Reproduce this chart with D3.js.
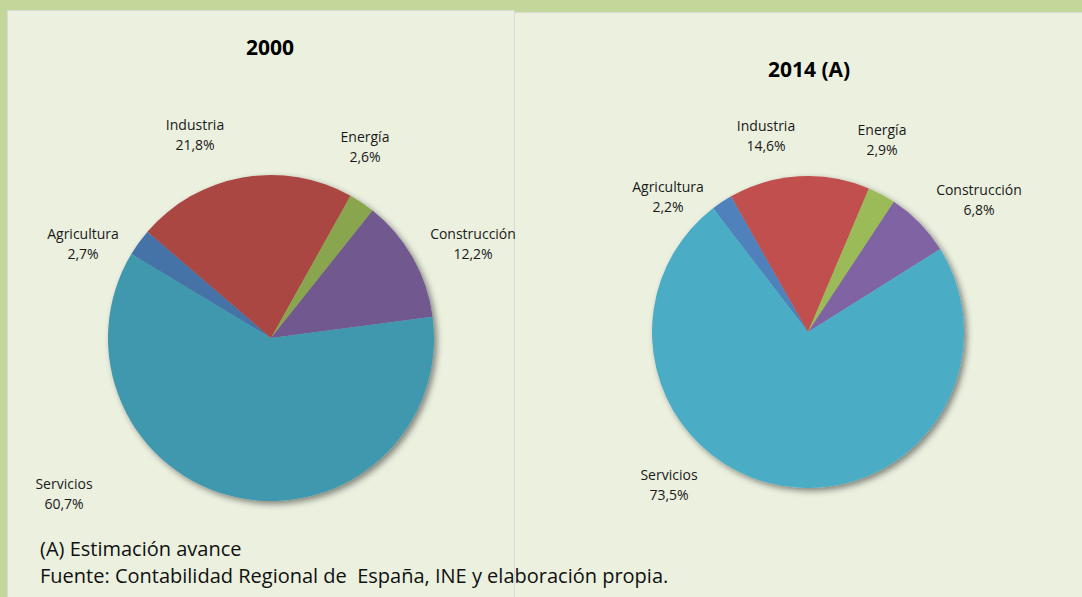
<!doctype html>
<html lang="es">
<head>
  <meta charset="utf-8">
  <title>Estructura sectorial 2000 - 2014</title>
  <style>
    body { margin: 0; background: #c4d79b; }
    svg { display: block; font-family: "Open Sans", "Noto Sans", sans-serif; }
    .lbl { font-size: 14px; fill: #1a1a1a; }
    .ttl { font-size: 21px; font-weight: bold; fill: #000; }
    .note { font-size: 20px; fill: #111; white-space: pre; }
  </style>
</head>
<body>
  <div id="chart"></div>
  <script src="https://cdn.jsdelivr.net/npm/d3@7"></script>
  <script>
(function() {

  var sectors = ['Agricultura', 'Industria', 'Energía', 'Construcción', 'Servicios'];
  var values2000 = [2.7, 21.8, 2.6, 12.2, 60.7];
  var values2014 = [2.2, 14.6, 2.9, 6.8, 73.5];
  var titles = ['2000', '2014 (A)'];
  var notes = ['(A) Estimación avance', 'Fuente: Contabilidad Regional de  España, INE y elaboración propia.'];

  var colors2000 = ['#4572a7', '#aa4643', '#89a54e', '#71588f', '#4198af'];
  var colors2014 = ['#4f81bd', '#c0504d', '#9bbb59', '#8064a2', '#4bacc6'];

  var width = 1082, height = 597;
  var fmt = function(v) { return d3.format('.1f')(v).replace('.', ',') + '%'; };

  // layout of each panel: pie centre, radius, rotation, title pos, label offsets (from centre)
  var panels = [
    { x: 7, y: 10, w: 507, values: values2000, colors: colors2000, title: titles[0],
      cx: 271, cy: 338, r: 163, start: -59, tx: 270, ty: 55,
      labels: [[-188, -99], [-76, -208], [94, -196], [202, -99], [-207, 151]] },
    { x: 514, y: 12, w: 568, values: values2014, colors: colors2014, title: titles[1],
      cx: 808, cy: 332, r: 156, start: -37.5, tx: 809, ty: 77,
      labels: [[-140, -140], [-42, -201], [74, -197], [171, -137], [-139, 148]] }
  ];

  var svg = d3.select('#chart').append('svg')
      .attr('width', width)
      .attr('height', height);

  var defs = svg.append('defs');
  var f = defs.append('filter').attr('id', 'shadow')
      .attr('x', '-20%').attr('y', '-20%').attr('width', '140%').attr('height', '140%');
  f.append('feDropShadow')
      .attr('dx', 3).attr('dy', 3)
      .attr('stdDeviation', 3)
      .attr('flood-color', '#000')
      .attr('flood-opacity', 0.45);

  // panel backgrounds first so labels can overflow onto the neighbour
  svg.selectAll('rect.panel')
    .data(panels)
    .enter().append('rect')
      .attr('class', 'panel')
      .attr('x', function(p) { return p.x + 0.5; })
      .attr('y', function(p) { return p.y + 0.5; })
      .attr('width', function(p) { return p.w; })
      .attr('height', function(p) { return height - p.y + 5; })
      .attr('fill', '#ebf0df')
      .attr('stroke', '#d9d9d9');

  panels.forEach(function(p) {
    var pie = d3.pie().sort(null)
        .startAngle(p.start * Math.PI / 180)
        .endAngle(p.start * Math.PI / 180 + 2 * Math.PI);
    var arc = d3.arc().innerRadius(0).outerRadius(p.r);

    var g = svg.append('g').attr('transform', 'translate(' + p.cx + ',' + p.cy + ')');
    var slices = g.append('g').attr('filter', 'url(#shadow)');
    slices.selectAll('path')
      .data(pie(p.values))
      .enter().append('path')
        .attr('d', arc)
        .attr('fill', function(d, i) { return p.colors[i]; });

    var lab = g.selectAll('text.lbl')
      .data(p.values)
      .enter().append('text')
        .attr('class', 'lbl')
        .attr('text-anchor', 'middle')
        .attr('x', function(d, i) { return p.labels[i][0]; })
        .attr('y', function(d, i) { return p.labels[i][1]; });
    lab.append('tspan').text(function(d, i) { return sectors[i]; });
    lab.append('tspan')
        .attr('x', function(d, i) { return p.labels[i][0]; })
        .attr('dy', 20)
        .text(function(d) { return fmt(d); });

    svg.append('text')
        .attr('class', 'ttl')
        .attr('x', p.tx).attr('y', p.ty)
        .attr('text-anchor', 'middle')
        .text(p.title);
  });

  svg.selectAll('text.note')
    .data(notes)
    .enter().append('text')
      .attr('class', 'note')
      .attr('x', 40)
      .attr('y', function(d, i) { return 556 + i * 27; })
      .text(function(d) { return d; });

})();
  </script>
</body>
</html>
